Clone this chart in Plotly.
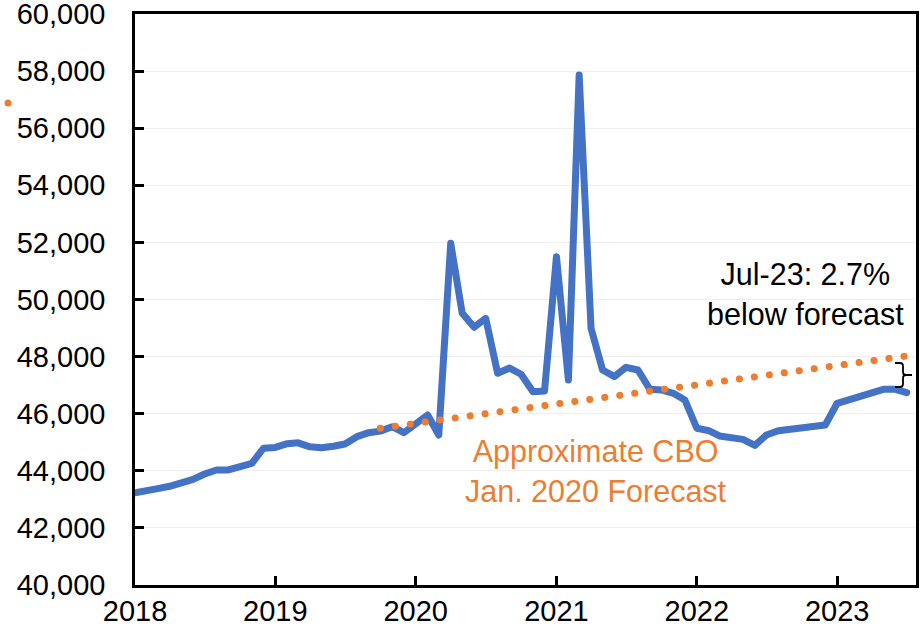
import plotly.graph_objects as go
import pandas as pd

# ---- data ----
months = pd.date_range("2018-01-01", "2023-07-01", freq="MS").strftime("%Y-%m-%d").tolist()
actual = [
    43230, 43280, 43375, 43457, 43560, 43700, 43887, 44030, 44030, 44120, 44260, 44790,  # 2018
    44820, 44950, 44980, 44840, 44810, 44860, 44940, 45195, 45335, 45390, 45545, 45335,  # 2019
    45640, 45955, 45255, 51970, 49515, 49025, 49340, 47415, 47600, 47380, 46770, 46795,  # 2020
    51500, 47180, 57860, 48990, 47530, 47300, 47625, 47530, 46855, 46830, 46715, 46480,  # 2021
    45490, 45405, 45220, 45170, 45100, 44890, 45255, 45405, 45455, 45545, 45593, 45605,  # 2022
    46365, 46480, 46620, 46690, 46855, 46855, 46740,                                      # 2023
]
forecast_dates = ["2019-10-01", "2020-01-01", "2021-01-01", "2022-01-01", "2023-01-01", "2023-08-01"]
forecast = [45490, 45650, 46340, 47010, 47690, 48080]

y_ticks = [40000, 42000, 44000, 46000, 48000, 50000, 52000, 54000, 56000, 58000, 60000]

BLUE = "#4472C4"
ORANGE = "#ED7D31"
FONT = "Liberation Sans, Arial, sans-serif"

fig = go.Figure()
fig.add_trace(go.Scatter(x=months, y=actual, mode="lines",
                         line=dict(color=BLUE, width=7), hoverinfo="skip", showlegend=False))
fig.add_trace(go.Scatter(x=forecast_dates, y=forecast, mode="lines",
                         line=dict(color=ORANGE, width=7, dash="0.1px,15px"),
                         hoverinfo="skip", showlegend=False))

# plot-area geometry (pixels) for placing the annotation marks
L, R, T, B = 135, 916, 14, 585
def px(x):
    return (x - L) / (R - L)
def py(y):
    return (B - y) / (B - T)

brace_pts = [
    ("M", 895, 363), ("L", 900, 363), ("Q", 903, 363, 903, 366), ("L", 903, 372),
    ("Q", 903, 375, 906, 375), ("L", 912, 375), ("M", 906, 375),
    ("Q", 903, 375, 903, 378), ("L", 903, 384), ("Q", 903, 387, 900, 387), ("L", 895, 387),
]
parts = []
for p in brace_pts:
    cmd = p[0]
    coords = p[1:]
    s = cmd
    for i in range(0, len(coords), 2):
        s += f" {px(coords[i]):.5f},{py(coords[i+1]):.5f}"
    parts.append(s)
brace_path = " ".join(parts)

fig.update_layout(
    width=924, height=626,
    margin=dict(l=L, r=924 - R, t=T, b=626 - B, autoexpand=False),
    paper_bgcolor="white", plot_bgcolor="white",
    font=dict(family=FONT, size=29, color="black"),
    xaxis=dict(
        type="date", range=["2018-01-01", "2023-07-25"], automargin=False,
        tick0="2018-01-01", dtick="M12", tickformat="%Y",
        ticks="inside", ticklen=9, tickwidth=2.5, tickcolor="black",
        showline=True, linecolor="black", linewidth=2.5, mirror=True,
        showgrid=False, zeroline=False, ticklabelstandoff=-2, ticklabeloverflow="allow",
        tickfont=dict(family=FONT, size=29, color="black"),
    ),
    yaxis=dict(
        range=[40000, 60000], tickvals=y_ticks, tickformat=",", automargin=False,
        ticks="inside", ticklen=9, tickwidth=2.5, tickcolor="black",
        showline=True, linecolor="black", linewidth=2.5, mirror=True,
        showgrid=True, gridcolor="#EFEFEF", gridwidth=1, zeroline=False,
        ticklabelstandoff=21, ticklabeloverflow="allow",
        tickfont=dict(family=FONT, size=29, color="black"),
    ),
    annotations=[
        dict(text="Jul-23: 2.7%<br>below forecast", xref="paper", yref="paper",
             x=px(805), y=py(294), showarrow=False, xanchor="center", yanchor="middle",
             font=dict(family=FONT, size=30.5, color="black")),
        dict(text="Approximate CBO<br>Jan. 2020 Forecast", xref="paper", yref="paper",
             x=px(596), y=py(471), showarrow=False, xanchor="center", yanchor="middle",
             font=dict(family=FONT, size=30.5, color=ORANGE)),
    ],
    shapes=[
        dict(type="path", xref="paper", yref="paper", path=brace_path,
             line=dict(color="black", width=1.8)),
        dict(type="circle", xref="paper", yref="paper", xsizemode="pixel", ysizemode="pixel",
             xanchor=px(8), yanchor=py(103), x0=-3.5, x1=3.5, y0=-3.5, y1=3.5,
             fillcolor=ORANGE, line=dict(width=0)),
    ],
)

post = """
document.body.style.margin = '0';
document.body.style.padding = '0';
document.body.style.overflow = 'hidden';
var gd = document.getElementById('{plot_id}');
function fixCaps(){
  var paths = gd.querySelectorAll('.scatterlayer .trace path.js-line');
  paths.forEach(function(p){ p.style.strokeLinecap = 'round'; p.style.strokeLinejoin = 'round'; });
}
fixCaps();
if (gd.on) { gd.on('plotly_afterplot', fixCaps); }
"""
fig.write_html("out.html", post_script=post, config={"displayModeBar": False})
